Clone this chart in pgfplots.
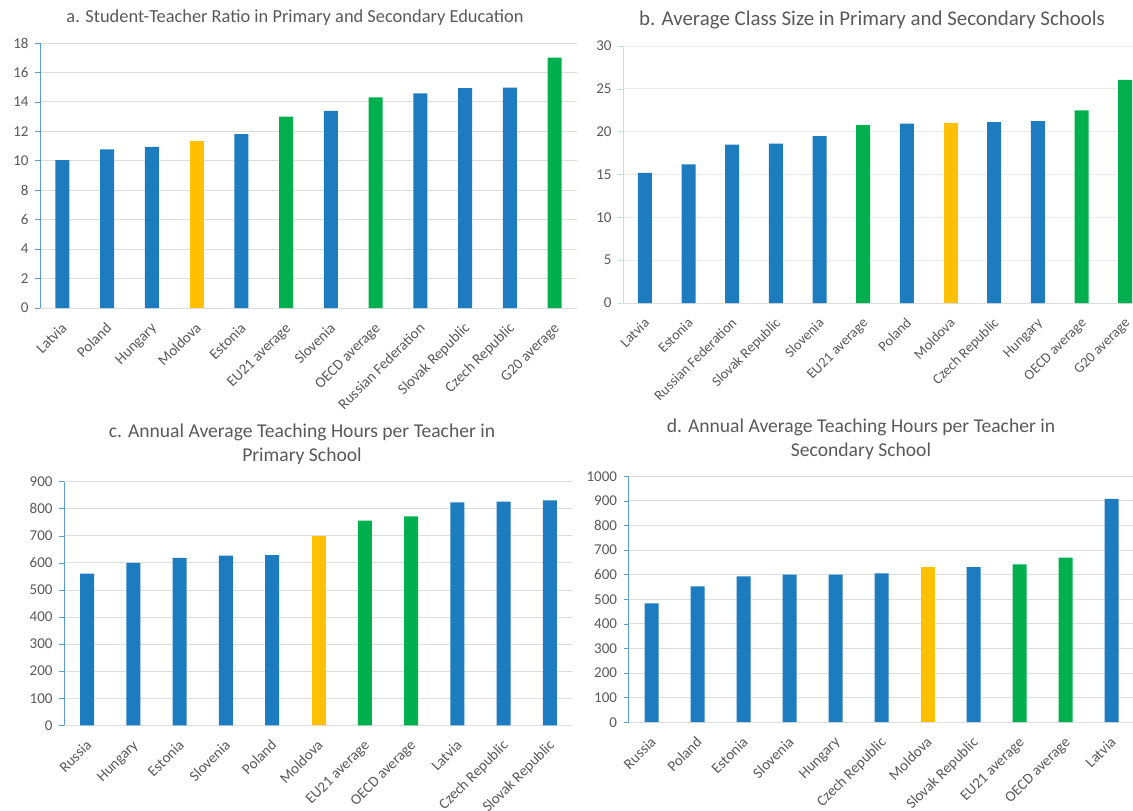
\documentclass[border=0pt]{standalone}
\usepackage{pgfplots}
\pgfplotsset{compat=1.18}
\usepackage{fontspec}
\setmainfont{Carlito}

\definecolor{barblue}{HTML}{1D7BBF}
\definecolor{bargreen}{HTML}{00B04F}
\definecolor{baryellow}{HTML}{FFC000}
\definecolor{txtgray}{HTML}{595959}
\definecolor{gridgray}{HTML}{DDDDDD}
\definecolor{axisblue}{HTML}{5B9BD5}
\definecolor{axispale}{HTML}{C9DAE8}

\newcommand{\tickfont}{\fontsize{15}{18}\selectfont}
\newcommand{\titlefont}{\fontsize{18.4}{24}\selectfont}

\pgfplotsset{
  panel/.style={
    scale only axis,
    anchor=south west,
    ybar, bar width=14pt, bar shift=0pt,
    ymin=0,
    xmin=-0.5,
    xtick={0,...,11},
    axis x line*=bottom,
    axis y line*=left,
    x axis line style={draw=gridgray, line width=1pt},
    y axis line style={draw=axisblue, line width=0.8pt},
    major x tick style={draw=none},
    ytick style={draw=axisblue, line width=0.6pt},
    tick align=outside,
    major tick length=5pt,
    ymajorgrids,
    grid style={draw=gridgray, line width=0.9pt},
    /pgf/number format/assume math mode=true,
    /pgf/number format/1000 sep={},
    yticklabel style={font=\tickfont, text=txtgray, xshift=-3pt},
    % shifts are taken along the rotated label
    xticklabel style={font=\tickfont, text=txtgray, rotate=45,
      anchor=base east, xshift=-4pt, yshift=-15pt},
    every axis plot/.append style={draw=none},
  },
  blue/.style={fill=barblue},
  green/.style={fill=bargreen},
  yellow/.style={fill=baryellow},
}

\begin{document}
\begin{tikzpicture}[x=1pt,y=1pt]

% a. student-teacher ratio
\node[font=\titlefont, text=txtgray] at (295pt,-17.5pt) {a. Student-Teacher Ratio in Primary and Secondary Education};
\begin{axis}[panel, at={(40pt,-308pt)}, width=537pt, height=265pt,
    xmax=11.5, ymax=18, ytick={0,2,...,18},
    xticklabels={Latvia, Poland, Hungary, Moldova, Estonia, EU21 average,
      Slovenia, OECD average, Russian Federation, Slovak Republic,
      Czech Republic, G20 average}]
  \addplot[blue] coordinates {(0,10.05) (1,10.77) (2,10.95) (4,11.81)
    (6,13.39) (8,14.58) (9,14.94) (10,14.97)};
  \addplot[yellow] coordinates {(3,11.33)};
  \addplot[green] coordinates {(5,13.0) (7,14.31) (11,17.0)};
\end{axis}

% b. average class size
\node[font=\fontsize{20.9}{26}\selectfont, text=txtgray] at (872pt,-20.5pt) {b. Average Class Size in Primary and Secondary Schools};
\begin{axis}[panel, at={(623pt,-303pt)}, width=524pt, height=257pt,
    xmax=11.5, ymax=30, ytick={0,5,...,30},
    y axis line style={draw=axispale, line width=0.8pt},
    ytick style={draw=axispale, line width=0.6pt},
    grid style={draw=gridgray!60, line width=0.9pt},
    xticklabel style={font=\fontsize{14.3}{17}\selectfont},
    xticklabels={Latvia, Estonia, Russian Federation, Slovak Republic,
      Slovenia, EU21 average, Poland, Moldova, Czech Republic, Hungary,
      OECD average, G20 average}]
  \addplot[blue] coordinates {(0,15.2) (1,16.17) (2,18.5) (3,18.6)
    (4,19.47) (6,20.95) (8,21.1) (9,21.22)};
  \addplot[yellow] coordinates {(7,21.06)};
  \addplot[green] coordinates {(5,20.75) (10,22.5) (11,26.04)};
\end{axis}

% c. teaching hours, primary
\node[font=\fontsize{19.6}{24}\selectfont, text=txtgray, align=center] at (302pt,-444.7pt)
  {c. Annual Average Teaching Hours per Teacher in\\Primary School};
\begin{axis}[panel, at={(64pt,-725.3pt)}, width=509pt, height=243.6pt,
    xmax=10.5, ymax=900, ytick={0,100,...,900},
    xticklabels={Russia, Hungary, Estonia, Slovenia, Poland, Moldova,
      EU21 average, OECD average, Latvia, Czech Republic, Slovak Republic}]
  \addplot[blue] coordinates {(0,560) (1,600) (2,619) (3,627) (4,629)
    (8,824) (9,826) (10,831)};
  \addplot[yellow] coordinates {(5,699)};
  \addplot[green] coordinates {(6,756) (7,772)};
\end{axis}

% d. teaching hours, secondary
\node[font=\fontsize{19.6}{24}\selectfont, text=txtgray, align=center] at (861pt,-439pt)
  {d. Annual Average Teaching Hours per Teacher in\\Secondary School};
\begin{axis}[panel, at={(628.5pt,-722.2pt)}, width=506pt, height=245.9pt,
    xmax=10.5, ymax=1000, ytick={0,100,...,1000},
    xticklabels={Russia, Poland, Estonia, Slovenia, Hungary, Czech Republic,
      Moldova, Slovak Republic, EU21 average, OECD average, Latvia}]
  \addplot[blue] coordinates {(0,483) (1,552) (2,593) (3,600) (4,600)
    (5,605) (7,631) (10,908)};
  \addplot[yellow] coordinates {(6,631)};
  \addplot[green] coordinates {(8,642) (9,669)};
\end{axis}

\pgfresetboundingbox
\path[use as bounding box] (0pt,0pt) rectangle (1133pt,-811pt);
\end{tikzpicture}
\end{document}
